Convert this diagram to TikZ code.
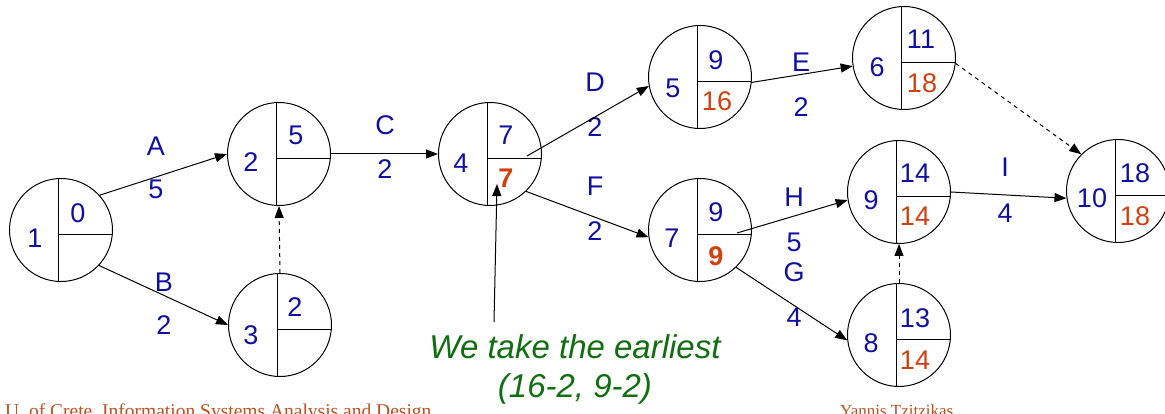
\documentclass[tikz,border=0pt]{standalone}
\usepackage{fontspec}
\setmainfont{Liberation Sans}
\newfontfamily\footfont{Liberation Serif}
\usetikzlibrary{arrows.meta}
\definecolor{nblue}{RGB}{16,16,160}
\definecolor{nred}{RGB}{210,64,16}
\definecolor{ngreen}{RGB}{16,110,16}
\definecolor{nbrown}{RGB}{190,80,30}
\newcommand{\evt}[3]{%
  \node[evc] (#1) at (#2,#3) {};
  \draw[thin line,shift={(#1.center)}] (-2.5,-51.4) -- (-2.5,51.4) (-2.5,4.5) -- (51.3,4.5);
}
\begin{document}
\begin{tikzpicture}[x=1pt,y=-1pt,
  thin line/.style={line width=1pt,black},
  evc/.style={circle,draw,line width=1pt,minimum size=103pt,inner sep=0pt},
  num/.style={text=nblue,font=\fontsize{27}{27}\selectfont,inner sep=0pt,anchor=center},
  rnum/.style={num,text=nred},
  rbnum/.style={num,text=nred,font=\fontsize{27}{27}\selectfont\bfseries},
  arr/.style={line width=1pt,-{Triangle[length=12pt,width=9pt]}},
  darr/.style={arr,dash pattern=on 4pt off 4pt},
  note/.style={text=ngreen,font=\fontsize{33}{33}\selectfont\itshape,inner sep=0pt,anchor=center},
  foot/.style={text=nbrown,font=\fontsize{17}{17}\footfont,inner sep=0pt,anchor=base west}]
\useasboundingbox (0,0) rectangle (1165,414);
% events
\evt{n1}{61}{230}
\evt{n2}{279}{154}
\evt{n3}{280}{325}
\evt{n4}{490}{154}
\evt{n5}{700}{77}
\evt{n6}{904}{58}
\evt{n7}{700}{230}
\evt{n9}{899}{192}
\evt{n8}{899}{335}
\evt{n10}{1118}{191}
% numbers in events
\node[num] (l1) at (35,238) {1};   \node[num] (e1) at (78,213) {0};
\node[num] (l2) at (251,162) {2};  \node[num] (e2) at (296,135) {5};
\node[num] (l3) at (251,335) {3};  \node[num] (e3) at (295,307) {2};
\node[num] (l4) at (461,163) {4};  \node[num] (e4) at (506,135) {7};  \node[rbnum] (f4) at (506,178) {7};
\node[num] (l5) at (673,88) {5};   \node[num] (e5) at (716,60) {9};   \node[rnum] (f5) at (717,101) {16};
\node[num] (l6) at (877,67) {6};   \node[num] (e6) at (921,39) {11};  \node[rnum] (f6) at (922,83) {18};
\node[num] (l7) at (672,238) {7};  \node[num] (e7) at (716,212) {9};  \node[rbnum] (f7) at (716,256) {9};
\node[num] (l9) at (871,200) {9};  \node[num] (e9) at (915,173) {14}; \node[rnum] (f9) at (915,216) {14};
\node[num] (l8) at (871,343) {8};  \node[num] (e8) at (915,318) {13}; \node[rnum] (f8) at (915,360) {14};
\node[num] (l10) at (1092,198) {10}; \node[num] (e10) at (1135,173) {18}; \node[rnum] (f10) at (1135,216) {18};
% activity labels
\node[num] (aA) at (156,146) {A}; \node[num] (dA) at (156,189) {5};
\node[num] (aB) at (164,282) {B}; \node[num] (dB) at (164,325) {2};
\node[num] (aC) at (385,125) {C}; \node[num] (dC) at (385,169) {2};
\node[num] (aD) at (595,82) {D};  \node[num] (dD) at (595,127) {2};
\node[num] (aF) at (595,186) {F}; \node[num] (dF) at (595,231) {2};
\node[num] (aE) at (801,62) {E};  \node[num] (dE) at (801,107) {2};
\node[num] (aH) at (794,197) {H}; \node[num] (dH) at (794,242) {5};
\node[num] (aG) at (794,272) {G}; \node[num] (dG) at (794,317) {4};
\node[num] (aI) at (1005,167) {I}; \node[num] (dI) at (1005,213) {4};
% connectors
\coordinate (s45) at (527,156);
\coordinate (s79) at (737,233);
\draw[arr] (n1.42) -- (n2.180);
\draw[arr] (n1.-43) -- (n3.180);
\draw[darr] (n3.north) -- (n2.south);
\draw[arr] (n2.0) -- (n4.180);
\draw[arr] (s45) -- (n5.190);
\draw[arr] (n4.-46) -- (n7.188);
\draw[arr] (n5.-6) -- (n6.189);
\draw[darr] (n6.-6) -- (n10.135);
\draw[arr] (s79) -- (n9.189);
\draw[arr] (n7.-46) -- (n8.186);
\draw[darr] (n8.north) -- (n9.south);
\draw[arr] (n9.0) -- (n10.188);
% annotation
\coordinate (ann0) at (494,322);
\coordinate (ann1) at (497,184);
\draw[arr] (ann0) -- (ann1);
\node[note] (t1) at (575,347) {We take the earliest};
\node[note] (t2) at (575,389) {(16-2, 9-2)};
% footer
\node[foot,font=\fontsize{19.5}{19.5}\footfont] (ft1) at (5,417) {U. of Crete, Information Systems Analysis and Design};
\node[foot] (ft2) at (840,416) {Yannis Tzitzikas};
\end{tikzpicture}
\end{document}
